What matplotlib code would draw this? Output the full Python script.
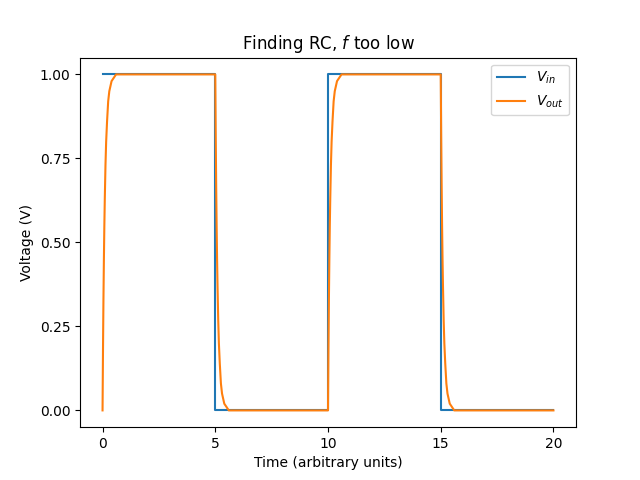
import numpy as np
import matplotlib
matplotlib.use("Agg")
import matplotlib.pyplot as plt

# square wave input
t_in = [0, 5, 5, 10, 10, 15, 15, 20]
v_in = [1, 1, 0, 0, 1, 1, 0, 0]

# output edge shape (time after edge, fraction of step)
edge_dt = [0, 0.02, 0.04, 0.06, 0.08, 0.1, 0.13, 0.16, 0.2, 0.25, 0.3, 0.4, 0.5, 0.6, 0.8]
edge_frac = [0, 0.18, 0.33, 0.45, 0.55, 0.63, 0.73, 0.80, 0.86, 0.92, 0.95, 0.98, 0.99, 1.0, 1.0]
edge_times = [0, 5, 10, 15]
edge_dirs = [1, -1, 1, -1]

t_out = []
v_out = []
for t0, d in zip(edge_times, edge_dirs):
    for dt, fr in zip(edge_dt, edge_frac):
        t_out.append(t0 + dt)
        v_out.append(fr if d > 0 else 1 - fr)
t_out.append(20)
v_out.append(0)

fig, ax = plt.subplots(figsize=(6.4, 4.8), dpi=100)
ax.plot(t_in, v_in, label="$V_{in}$")
ax.plot(t_out, v_out, label="$V_{out}$")
ax.set_title("Finding RC, $f$ too low")
ax.set_xlabel("Time (arbitrary units)")
ax.set_ylabel("Voltage (V)")
ax.set_xticks([0, 5, 10, 15, 20])
ax.set_yticks([0, 0.25, 0.5, 0.75, 1.0])
ax.legend()
fig.savefig("out.png")
